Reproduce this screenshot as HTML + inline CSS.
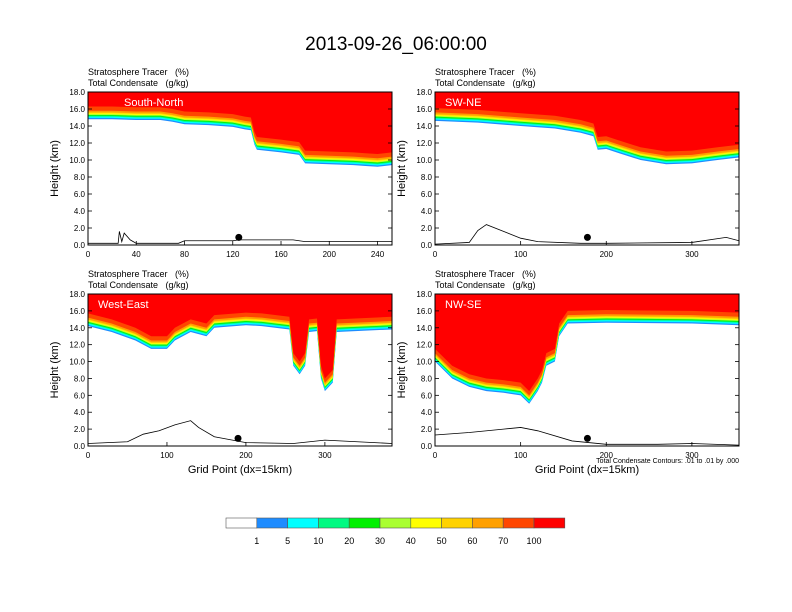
<!DOCTYPE html>
<html><head><meta charset="utf-8"><style>
body{margin:0;background:#fff;}
svg{display:block;font-family:"Liberation Sans",sans-serif;}
text{white-space:pre;}
</style></head><body>
<svg id="c" width="792" height="612" viewBox="0 0 792 612">
<text x="396" y="50" text-anchor="middle" font-size="19">2013-09-26_06:00:00</text>
</svg>
<script>
const NS="http://www.w3.org/2000/svg";
const svg=document.getElementById('c');
const colorLevels=["1","5","10","20","30","40","50","60","70","100"];
const colors=["#ffffff","#1e8cff","#00ffff","#00fa82","#00f000","#aaff32","#ffff00","#ffd200","#ffa000","#ff4600","#ff0000"];
// panel data (grid point, tropopause height km)
const tlX=[0,20,40,60,70,80,100,120,130,135,138,140,160,175,180,200,220,230,240,252];
const tlH=[15.8,15.8,15.7,15.7,15.5,15.2,15.1,14.9,14.6,14.5,12.8,12.2,11.9,11.6,10.6,10.5,10.4,10.3,10.2,10.4];
const trX=[0,50,100,140,170,185,190,200,215,240,270,300,330,355];
const trH=[15.6,15.4,15.0,14.7,14.2,13.8,12.2,12.3,11.8,11.0,10.5,10.6,11.0,11.3];
const blX=[0,30,60,80,100,110,130,150,160,200,220,255,260,268,275,280,290,295,300,310,315,385];
const blH=[15.2,14.5,13.5,12.5,12.5,13.5,14.5,14.0,15.0,15.3,15.2,14.8,10.5,9.5,10.5,14.5,14.6,9.0,7.5,8.5,14.5,14.8];
const brX=[0,20,40,60,80,100,110,120,125,130,140,145,155,200,300,355];
const brH=[11.0,9.0,8.0,7.5,7.3,7.0,6.0,7.5,8.5,10.5,11.0,14.0,15.5,15.6,15.5,15.3];
// terrain (grid, km)
const tlTX=[0,25,26,28,30,35,40,75,80,120,125,170,180,252];const tlTH=[0.2,0.2,1.6,0.4,1.4,0.6,0.2,0.2,0.5,0.5,0.6,0.6,0.4,0.4];
const trTX=[0,40,50,60,80,100,120,170,200,300,340,355];const trTH=[0.1,0.3,1.7,2.4,1.6,0.8,0.4,0.2,0.2,0.3,0.9,0.5];
const blTX=[0,50,70,90,110,130,140,160,200,260,300,385];const blTH=[0.3,0.5,1.4,1.8,2.5,3.0,2.2,1.1,0.4,0.3,0.7,0.3];
const brTX=[0,40,80,100,120,160,200,260,300,355];const brTH=[1.3,1.6,2.0,2.2,1.8,0.6,0.2,0.2,0.3,0.1];
const panels=[
 {name:"south-north",label:"South-North",x0:88,y0:92,w:304,h:153,xmax:252,ticks:[0,40,80,120,160,200,240],X:tlX,H:tlH,TX:tlTX,TH:tlTH,dot:125},
 {name:"sw-ne",label:"SW-NE",x0:435,y0:92,w:304,h:153,xmax:355,ticks:[0,100,200,300],X:trX,H:trH,TX:trTX,TH:trTH,dot:178},
 {name:"west-east",label:"West-East",x0:88,y0:294,w:304,h:152,xmax:385,ticks:[0,100,200,300],X:blX,H:blH,TX:blTX,TH:blTH,dot:190,xl:1},
 {name:"nw-se",label:"NW-SE",x0:435,y0:294,w:304,h:152,xmax:355,ticks:[0,100,200,300],X:brX,H:brH,TX:brTX,TH:brTH,dot:178,xl:1,note:1}];
function el(t,a,p){const e=document.createElementNS(NS,t);for(const k in a)e.setAttribute(k,a[k]);(p||svg).appendChild(e);return e;}
panels.forEach(P=>{
 const g=el('g',{});
 
 
 const sx=v=>P.x0+v/P.xmax*P.w, sy=v=>P.y0+P.h-v/18*P.h;
 const clipId='clip-'+P.name;
 const cp=el('clipPath',{id:clipId},g);el('rect',{x:P.x0,y:P.y0,width:P.w,height:P.h},cp);
 const bg=el('g',{'clip-path':'url(#'+clipId+')'},g);
 const off=[1.0,0.85,0.7,0.6,0.5,0.4,0.3,0.2,0.0,-0.5];
 const cidx=[1,2,3,4,5,6,7,8,9,10];
 off.forEach((o,i)=>{
  let d="M"+sx(0)+","+sy(19);
  P.X.forEach((x,j)=>{d+=" L"+sx(x)+","+sy(Math.max(0,P.H[j]-o));});
  d+=" L"+sx(P.xmax)+","+sy(19)+"Z";
  const p=el('path',{d:d,fill:colors[cidx[i]]},bg);
  
  
 });
 let t="";P.TX.forEach((x,j)=>{t+=(j?" L":"M")+sx(x)+","+sy(P.TH[j]);});
 const tp=el('path',{d:t,fill:"none",stroke:"#000","stroke-width":0.8},g);
 
 
 const dt=el('circle',{cx:sx(P.dot),cy:sy(0.9),r:3.5,fill:"#000"},g);
 
 
 el('rect',{x:P.x0,y:P.y0,width:P.w,height:P.h,fill:"none",stroke:"#000","stroke-width":1},g);
 const lb=el('text',{x:P.x0+(P.name=="south-north"?36:10),y:P.y0+14,fill:"#fff","font-size":11},g);lb.textContent=P.label;
 
 
 for(let v=0;v<=18;v+=2){
  el('line',{x1:P.x0,x2:P.x0+4,y1:sy(v),y2:sy(v),stroke:"#000","stroke-width":0.8},g);
  el('line',{x1:P.x0+P.w,x2:P.x0+P.w-4,y1:sy(v),y2:sy(v),stroke:"#000","stroke-width":0.8},g);
  const tt=el('text',{x:P.x0-3,y:sy(v)+3,"text-anchor":"end","font-size":8},g);tt.textContent=v.toFixed(1);
  
  
 }
 P.ticks.forEach(v=>{
  el('line',{x1:sx(v),x2:sx(v),y1:P.y0+P.h,y2:P.y0+P.h-4,stroke:"#000","stroke-width":0.8},g);
  const tt=el('text',{x:sx(v),y:P.y0+P.h+12,"text-anchor":"middle","font-size":8},g);tt.textContent=v;
  
  
 });
 const yl=el('text',{x:0,y:0,"text-anchor":"middle","font-size":11,transform:`translate(${P.x0-30},${P.y0+P.h/2}) rotate(-90)`},g);yl.textContent="Height (km)";
 
 
 const s1=el('text',{x:P.x0,y:P.y0-17,"font-size":9},g);s1.textContent="Stratosphere Tracer   (%)";
 
 
 const s2=el('text',{x:P.x0,y:P.y0-6,"font-size":9},g);s2.textContent="Total Condensate   (g/kg)";
 
 
 if(P.xl){const xl=el('text',{x:P.x0+P.w/2,y:P.y0+P.h+27,"text-anchor":"middle","font-size":11},g);xl.textContent="Grid Point (dx=15km)";
  
  }
 if(P.note){const n=el('text',{x:P.x0+P.w,y:P.y0+P.h+17,"text-anchor":"end","font-size":7},g);n.textContent="Total Condensate Contours: .01 to .01 by .000";
  
  }
});
const cb=el('g',{});


const bw=30.8;
colors.forEach((c,i)=>{
 const r=el('rect',{x:226+i*bw,y:518,width:bw,height:10,fill:c,stroke:"#555","stroke-width":0.6},cb);
 
 
});
colorLevels.forEach((l,i)=>{
 const t=el('text',{x:226+(i+1)*bw,y:544,"text-anchor":"middle","font-size":9},cb);t.textContent=l;
 
 
});
</script>
</body></html>
